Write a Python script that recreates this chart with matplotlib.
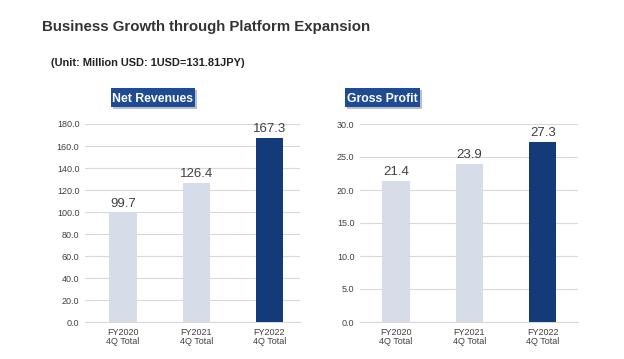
import matplotlib
matplotlib.use("Agg")
import matplotlib.pyplot as plt
from matplotlib.patches import FancyBboxPatch

categories = ["FY2020\n4Q Total", "FY2021\n4Q Total", "FY2022\n4Q Total"]
net_revenues = [99.7, 126.4, 167.3]
gross_profit = [21.4, 23.9, 27.3]
rev_ticks = [0, 20, 40, 60, 80, 100, 120, 140, 160, 180]
gp_ticks = [0, 5, 10, 15, 20, 25, 30]

W, H = 624, 359
fig = plt.figure(figsize=(W / 100, H / 100), dpi=100)
plt.rcParams['font.family'] = ['Liberation Sans', 'DejaVu Sans']

light = "#D6DCE8"
dark = "#133B7A"
colors = [light, light, dark]

def add_ax(x0, x1, y_top, y_bot):
    return fig.add_axes([x0 / W, 1 - y_bot / H, (x1 - x0) / W, (y_bot - y_top) / H])

def style(ax, vals, ticks, xlim):
    x = range(len(vals))
    ax.bar(x, vals, width=0.37, color=colors, zorder=3)
    ax.set_xlim(*xlim)
    ax.set_ylim(0, ticks[-1])
    ax.set_yticks(ticks)
    ax.set_yticklabels([f"{t:.1f}" for t in ticks], fontsize=6.5, color="#404040")
    ax.set_xticks(list(x))
    ax.set_xticklabels(categories, fontsize=6.5, color="#404040", linespacing=1.0)
    ax.grid(axis="y", color="#D9D9D9", linewidth=0.8, zorder=0)
    for s in ["top", "right", "left"]:
        ax.spines[s].set_visible(False)
    ax.spines["bottom"].set_color("#D9D9D9")
    ax.tick_params(length=0, pad=4)
    for i, v in enumerate(vals):
        ax.annotate(f"{v:.1f}", (i, v), xytext=(0, 2), textcoords="offset points",
                    ha="center", va="bottom", fontsize=9.5, color="#404040")

ax1 = add_ax(85, 300, 124, 322)
style(ax1, net_revenues, rev_ticks, (-0.52, 2.42))
ax2 = add_ax(360, 578, 124, 322)
style(ax2, gross_profit, gp_ticks, (-0.49, 2.48))

fig.text(42 / W, 1 - 27 / H, "Business Growth through Platform Expansion",
         fontsize=10.8, fontweight="bold", color="#333333", va="center", ha="left")
fig.text(51 / W, 1 - 63 / H, "(Unit: Million USD: 1USD=131.81JPY)",
         fontsize=7.9, fontweight="bold", color="#222222", va="center", ha="left")

def title_box(x0, x1, y0, y1, text):
    sh = FancyBboxPatch(((x0 + 2) / W, 1 - (y1 + 2) / H), (x1 - x0) / W, (y1 - y0) / H,
                        boxstyle="square,pad=0", transform=fig.transFigure,
                        facecolor="#9AA3B5", edgecolor="none", alpha=0.7)
    fig.patches.append(sh)
    box = FancyBboxPatch((x0 / W, 1 - y1 / H), (x1 - x0) / W, (y1 - y0) / H,
                         boxstyle="square,pad=0", transform=fig.transFigure,
                         facecolor="#1F4A94", edgecolor="none")
    fig.patches.append(box)
    fig.text((x0 + x1) / 2 / W, 1 - (y0 + y1) / 2 / H, text, fontsize=8.8,
             fontweight="bold", color="white", ha="center", va="center_baseline")

title_box(111, 195, 88, 107, "Net Revenues")
title_box(345, 420, 88, 107, "Gross Profit")

fig.savefig("out.png", dpi=100, facecolor="white")
